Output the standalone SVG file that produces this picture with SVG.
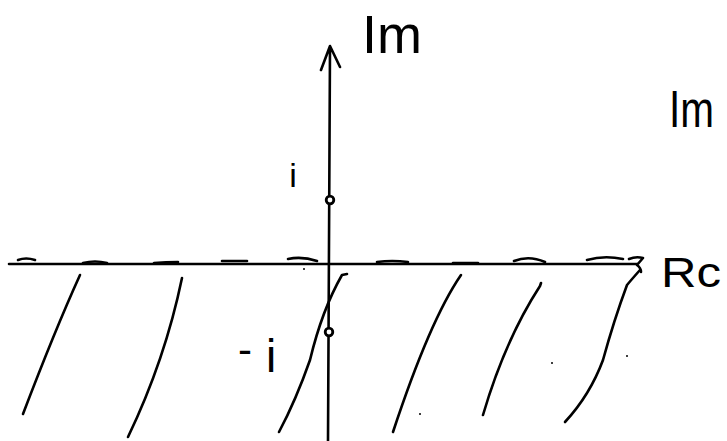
<svg xmlns="http://www.w3.org/2000/svg" width="727" height="441" viewBox="0 0 727 441">
<style>
.ax{stroke:#000;stroke-width:2.6;fill:none;stroke-linecap:round;stroke-linejoin:round}
.ds{stroke:#000;stroke-width:2.6;fill:none;stroke-linecap:round}
.hl{stroke:#000;stroke-width:2.6;fill:none;stroke-linecap:round;stroke-linejoin:round}
.pt{stroke:#000;stroke-width:2.8;fill:#fff}
.lb{font-family:"Liberation Sans","DejaVu Sans",sans-serif;fill:#000}
.dot{fill:#000}
</style>
<rect width="727" height="441" fill="#fff"/>
<g id="connectors">
  <path id="im-axis" class="ax" d="M328 441 L330 47 M321 70 L330 46 L340 67"/>
  <path id="re-axis" class="ax" d="M9 264 L637 264 M629 259 Q636 256 643 258 L637 265 Q641 268 641 272"/>
</g>
<g id="dashes">
  <path class="ds" d="M18 260 Q26 257 35 260"/>
  <path class="ds" d="M83 263 Q95 260 107 263"/>
  <path class="ds" d="M154 263 Q166 262 178 262"/>
  <path class="ds" d="M222 261 L247 261"/>
  <path class="ds" d="M288 259 Q302 256 317 261"/>
  <path class="ds" d="M377 262 Q392 260 408 262"/>
  <path class="ds" d="M453 263 L478 263"/>
  <path class="ds" d="M514 261 Q529 255 545 262"/>
  <path class="ds" d="M587 260 Q604 255 623 259"/>
</g>
<g id="hatching">
  <path class="hl" d="M80 275 Q55 330 23 414"/>
  <path class="hl" d="M182 278 Q165 360 128 437"/>
  <path class="hl" d="M347 274 L342 275 Q322 310 310 360 Q296 400 279 432"/>
  <path class="hl" d="M461 275 Q430 320 393 432"/>
  <path class="hl" d="M541 283 L540 286 Q505 340 483 415"/>
  <path class="hl" d="M640 270 Q632 279 627 285 Q614 320 603 360 Q590 395 565 422"/>
</g>
<g id="specks">
  <circle class="dot" cx="304" cy="269" r="1"/>
  <circle class="dot" cx="420" cy="414" r="1"/>
  <circle class="dot" cx="552" cy="363" r="1"/>
  <circle class="dot" cx="627" cy="356" r="1"/>
</g>
<g id="point-i">
  <circle class="pt" cx="330" cy="200" r="3.8"/>
  <text class="lb" x="293" y="187" font-size="34" text-anchor="middle">i</text>
</g>
<g id="point-minus-i">
  <circle class="pt" cx="329" cy="332" r="3.8"/>
  <text class="lb" x="238" y="364" font-size="42">-<tspan dx="14" y="372" font-size="46">i</tspan></text>
</g>
<g id="label-im-axis">
  <text class="lb" x="362" y="53" font-size="54" textLength="60" lengthAdjust="spacingAndGlyphs">Im</text>
</g>
<g id="label-im-right">
  <text class="lb" x="669" y="127" font-size="52" textLength="45" lengthAdjust="spacingAndGlyphs">Im</text>
</g>
<g id="label-re">
  <text class="lb" x="661" y="287" font-size="42" textLength="60" lengthAdjust="spacingAndGlyphs">Rc</text>
</g>
</svg>
